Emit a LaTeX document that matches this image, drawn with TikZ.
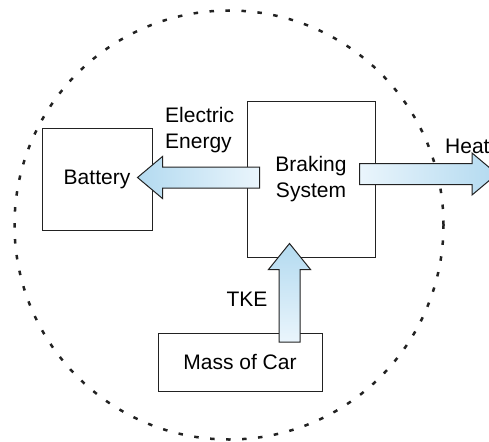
\documentclass[tikz,border=0pt]{standalone}
\usepackage{fontspec}
\setmainfont{Liberation Sans}
\usepackage{xcolor}
\usepackage{tikz}
\usetikzlibrary{calc,positioning}

\definecolor{flowpale}{HTML}{EAF5FC}
\definecolor{flowdeep}{HTML}{B3DAF0}
\definecolor{edge}{HTML}{222222}

% fat block arrows, drawn from a tail point to a tip point
\newcommand{\hflow}[3][]{%
  \shade[flow, #1] let \p1=(#2), \p2=(#3), \n1={ifthenelse(\x2>\x1,-25,25)} in
    (\x1,\y1+10.5pt) -- (\x2+\n1*1pt,\y1+10.5pt) -- (\x2+\n1*1pt,\y1+21pt) -- (\x2,\y1)
    -- (\x2+\n1*1pt,\y1-21pt) -- (\x2+\n1*1pt,\y1-10.5pt) -- (\x1,\y1-10.5pt) -- cycle;}
\newcommand{\vflow}[3][]{%
  \shade[flow, #1] let \p1=(#2), \p2=(#3), \n1={ifthenelse(\y2>\y1,-26,26)} in
    (\x1+10.5pt,\y1) -- (\x1+10.5pt,\y2+\n1*1pt) -- (\x1+21pt,\y2+\n1*1pt) -- (\x1,\y2)
    -- (\x1-21pt,\y2+\n1*1pt) -- (\x1-10.5pt,\y2+\n1*1pt) -- (\x1-10.5pt,\y1) -- cycle;}

\begin{document}
\begin{tikzpicture}[
  x=1pt, y=-1pt,
  font=\fontsize{21}{26}\selectfont,
  box/.style={draw=edge, line width=1pt, inner sep=0pt, align=center},
  flow/.style={draw=edge, line width=1pt},
  lbl/.style={inner sep=0pt, align=left},
  border/.style={draw=edge, line width=2.5pt, dash pattern=on 4.5pt off 11.5pt}
]
\useasboundingbox (0,0) rectangle (489,441);
\draw[border] (229,225) circle[radius=214.5pt];

\node[box, minimum width=128pt, minimum height=155pt] (brake) at (311,179.5) {Braking\\System};
\node[box, minimum width=110pt, minimum height=102pt, left=94pt of brake] (bat) {Battery};
\node[box, minimum width=164pt, minimum height=58pt] (mass) at (240,362) {Mass of Car};

\node[lbl, anchor=north west] (elecLbl) at (165,107) {Electric\\Energy};
\node[lbl, anchor=base west] (heatLbl) at (445,153) {Heat};
\node[lbl, anchor=base] (tkeLbl) at (247,306) {TKE};

\coordinate (eTail) at ([xshift=13pt,yshift=2pt]brake.west);
\coordinate (eTip) at ([xshift=-15pt,yshift=2pt]bat.east);
\coordinate (hTail) at ([xshift=-16pt,yshift=5.5pt]brake.east);
\coordinate (hTip) at (497,174);
\coordinate (kTail) at (289.5,342);
\coordinate (kTip) at ([yshift=14pt]brake.south -| kTail);

\hflow[left color=flowdeep, right color=flowpale]{eTail}{eTip}
\hflow[left color=flowpale, right color=flowdeep]{hTail}{hTip}
\vflow[top color=flowdeep, bottom color=flowpale]{kTail}{kTip}
\end{tikzpicture}
\end{document}
